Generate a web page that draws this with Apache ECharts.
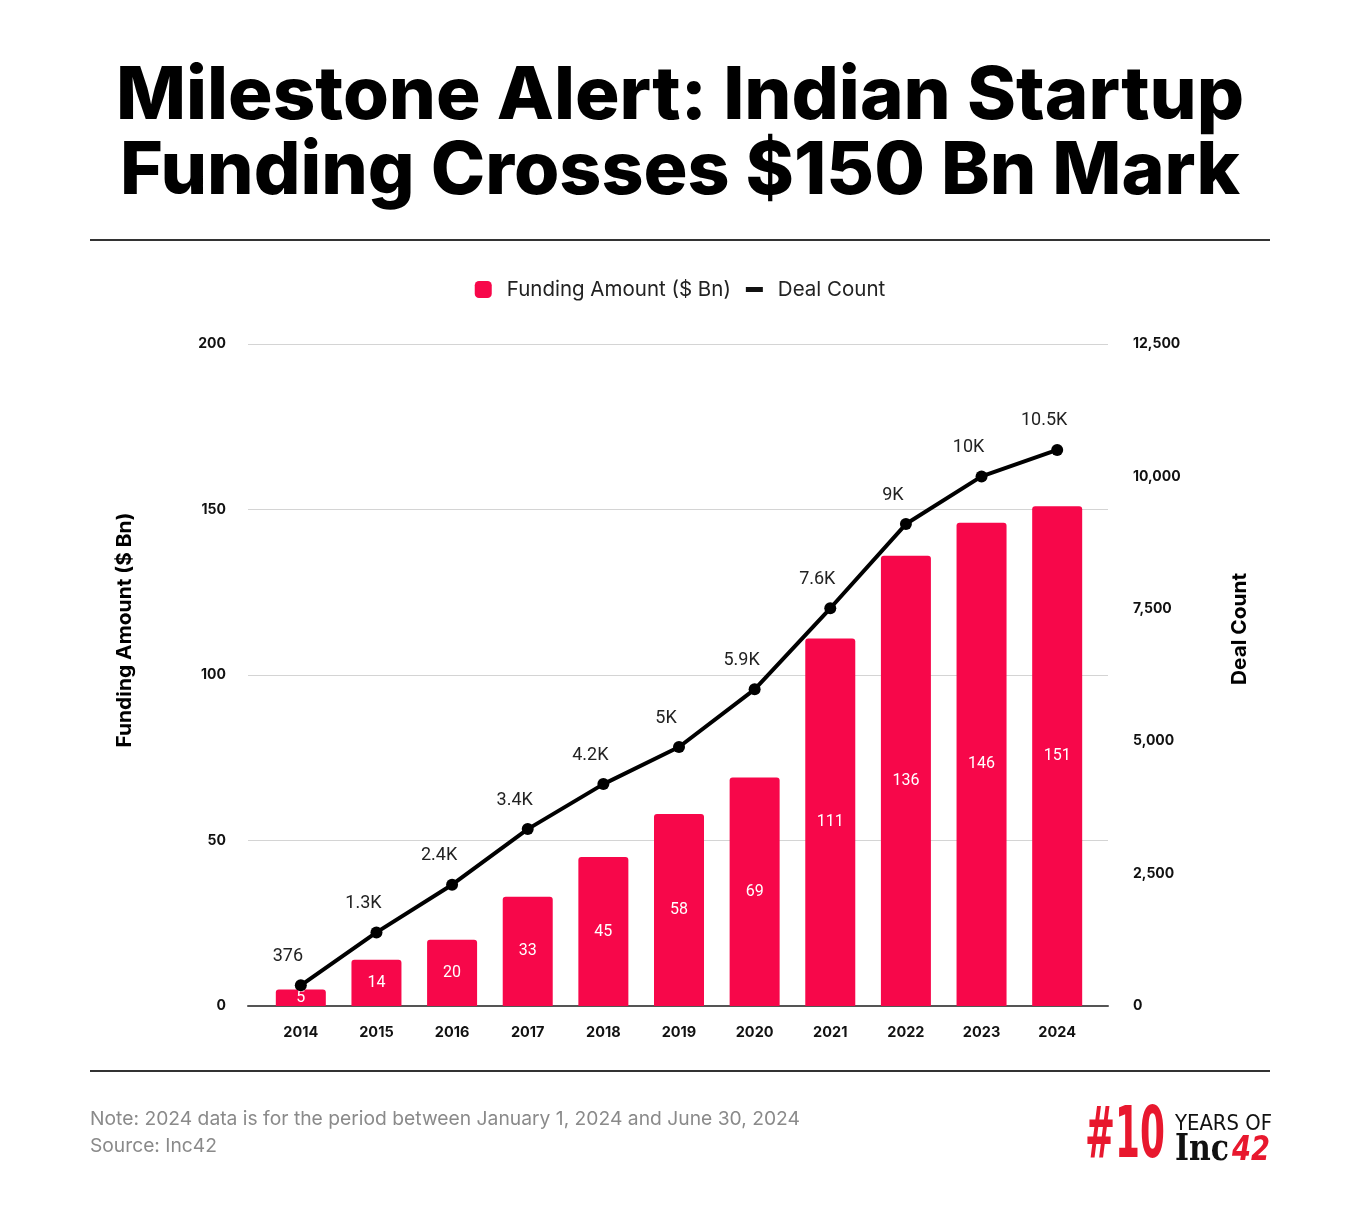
<!DOCTYPE html>
<html><head><meta charset="utf-8">
<script src="https://cdn.jsdelivr.net/npm/echarts@6/dist/echarts.min.js"></script>
<style>html,body{margin:0;padding:0;background:#fff}#c{width:1360px;height:1206px}</style>
</head><body><div id="c"></div>
<script>
const years = ['2014','2015','2016','2017','2018','2019','2020','2021','2022','2023','2024'];
const funding = [5,14,20,33,45,58,69,111,136,146,151];
const dealCount = [390,1390,2290,3340,4190,4890,5980,7510,9100,10000,10500];
const dealLabels = ['376','1.3K','2.4K','3.4K','4.2K','5K','5.9K','7.6K','9K','10K','10.5K'];
const titleLines = ['Milestone Alert: Indian Startup','Funding Crosses $150 Bn Mark'];
const noteLines = ['Note: 2024 data is for the period between January 1, 2024 and June 30, 2024','Source: Inc42'];

const RED = '#F7074A';
const LOGO_RED = '#E8182E';
const mctx = document.createElement('canvas').getContext('2d');
function tw(text, font) { mctx.font = font; return mctx.measureText(text).width; }
function fitText(text, font, target, opts) {
  const s = target / tw(text, font);
  return {type: 'text', scaleX: s, x: opts.x, y: opts.y, rotation: opts.rotation || 0,
    style: {text: text, font: font, fill: opts.fill || '#000', align: opts.align || 'left', verticalAlign: 'middle'}};
}

const chart = echarts.init(document.getElementById('c'));
const gTop = 344, gBottom = 200;
const TITLE_FONT = '800 73px Inter';
chart.setOption({
  backgroundColor: '#fff',
  animation: false,
  legend: {
    top: 274, left: 'center', itemGap: 15, itemWidth: 17, itemHeight: 17,
    textStyle: {fontFamily: 'Inter', fontSize: 20.5, color: '#222', padding: [0,0,0,10]},
    data: [
      {name: 'Funding Amount ($ Bn)', icon: 'roundRect'},
      {name: 'Deal Count', icon: 'path://M0,0 L34,0 L34,10 L0,10 Z', itemStyle: {color: '#111'}}
    ]
  },
  grid: [
    {left: 263, right: 265, top: gTop, bottom: gBottom},
    {left: 248, right: 252, top: gTop, bottom: gBottom}
  ],
  xAxis: [
    {type: 'category', gridIndex: 0, data: years, axisLine: {show: false}, axisTick: {show: false},
     axisLabel: {margin: 19, fontFamily: 'Inter', fontWeight: 700, fontSize: 14.5, color: '#111'}},
    {type: 'value', gridIndex: 1, min: 0, max: 1, axisLine: {show: true, lineStyle: {color: '#555', width: 2}},
     axisTick: {show: false}, axisLabel: {show: false}, splitLine: {show: false}}
  ],
  yAxis: [
    {type: 'value', gridIndex: 0, min: 0, max: 200, interval: 50, show: false, splitLine: {show: false}},
    {type: 'value', gridIndex: 0, min: 0, max: 12500, interval: 2500, show: false, splitLine: {show: false}},
    {type: 'value', gridIndex: 1, min: 0, max: 200, interval: 50, position: 'left',
     axisLine: {show: false}, axisTick: {show: false},
     axisLabel: {margin: 22, fontFamily: 'Inter', fontWeight: 700, fontSize: 14, color: '#111'},
     splitLine: {lineStyle: {color: '#d4d4d4', width: 1}}},
    {type: 'value', gridIndex: 1, min: 0, max: 12500, interval: 2500, position: 'right',
     axisLine: {show: false}, axisTick: {show: false},
     axisLabel: {margin: 25, fontFamily: 'Inter', fontWeight: 700, fontSize: 14, color: '#111',
       formatter: v => v.toLocaleString('en-US')},
     splitLine: {show: false}}
  ],
  series: [
    {name: 'Funding Amount ($ Bn)', type: 'bar', xAxisIndex: 0, yAxisIndex: 0, data: funding, barWidth: 50,
     itemStyle: {color: RED, borderRadius: [3,3,0,0]},
     label: {show: true, position: 'inside', color: '#fff', fontFamily: 'Roboto', fontSize: 16}},
    {name: 'Deal Count', type: 'line', xAxisIndex: 0, yAxisIndex: 1, data: dealCount,
     lineStyle: {color: '#000', width: 4}, itemStyle: {color: '#000'},
     symbol: 'circle', symbolSize: 12, z: 5,
     label: {show: true, position: 'top', offset: [-13, -6], distance: 8, color: '#222', fontFamily: 'Roboto', fontSize: 18,
       formatter: p => dealLabels[p.dataIndex]}}
  ],
  graphic: [
    fitText(titleLines[0], TITLE_FONT, 1128, {x: 680, y: 97, align: 'center'}),
    fitText(titleLines[1], TITLE_FONT, 1120, {x: 680, y: 172, align: 'center'}),
    {type: 'rect', shape: {x: 90, y: 239, width: 1180, height: 2}, style: {fill: '#333'}},
    {type: 'rect', shape: {x: 90, y: 1070, width: 1180, height: 2}, style: {fill: '#333'}},
    fitText('Funding Amount ($ Bn)', '700 20px Inter', 235, {x: 125, y: 630, align: 'center', rotation: Math.PI/2}),
    fitText('Deal Count', '700 20px Inter', 112, {x: 1240, y: 629, align: 'center', rotation: Math.PI/2}),
    fitText(noteLines[0], '19px Inter', 710, {x: 90, y: 1119, fill: '#8a8a8a'}),
    fitText(noteLines[1], '19px Inter', 127, {x: 90, y: 1146, fill: '#8a8a8a'}),
    fitText('#10', 'bold 72px "DejaVu Sans"', 80, {x: 1085, y: 1138, fill: LOGO_RED}),
    fitText('YEARS OF', '22px "DejaVu Sans"', 97, {x: 1175, y: 1124, fill: '#111'}),
    fitText('Inc', 'bold 37px "DejaVu Serif"', 54, {x: 1175, y: 1150, fill: '#111'}),
    fitText('42', 'italic bold 34px "DejaVu Sans"', 38, {x: 1232, y: 1151, fill: LOGO_RED})
  ]
});
</script></body></html>
